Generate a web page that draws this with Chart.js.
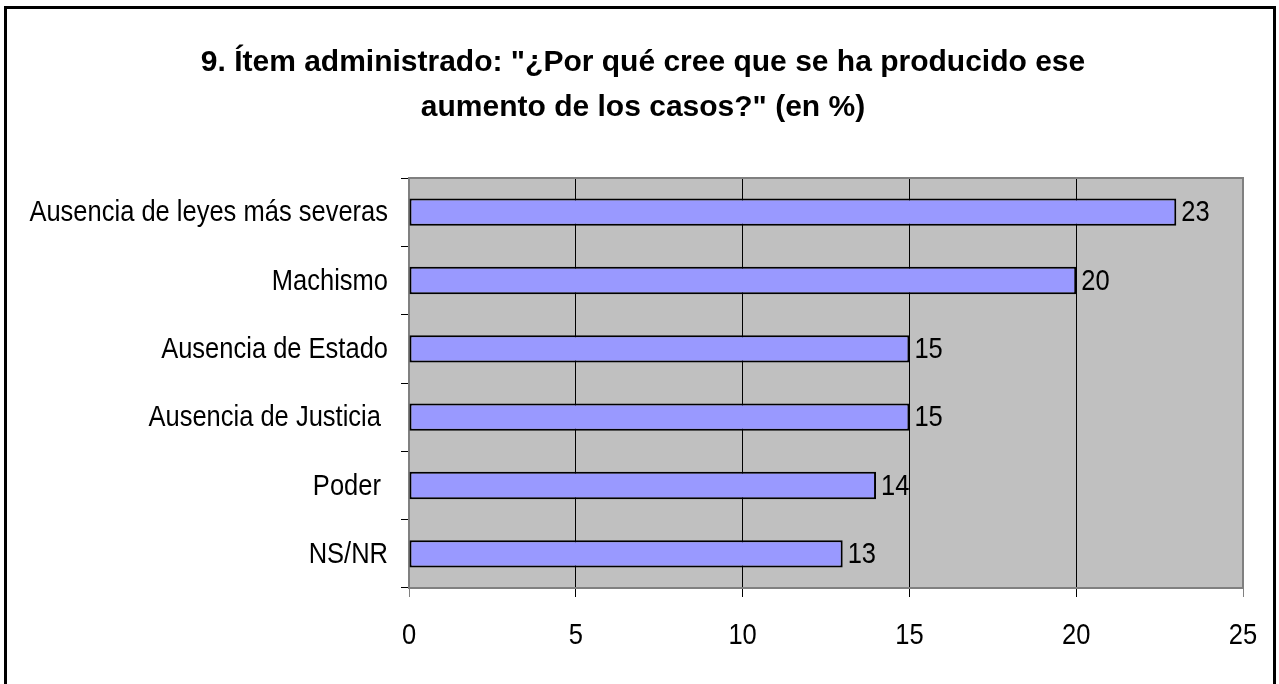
<!DOCTYPE html>
<html lang="es">
<head>
<meta charset="UTF-8">
<script src="https://cdn.jsdelivr.net/npm/chart.js"></script>
<title>Ítem 9</title>
<style>
    html, body { margin: 0; padding: 0; background: #fff; overflow: hidden; }
    .frame {
        position: absolute;
        left: 4px;
        top: 6px;
        width: 1266px;
        height: 690px;
        border: 3px solid #000;
        background: #fff;
    }
    .chart-box { position: relative; width: 1266px; height: 675px; }
</style>
</head>
<body>
<div class="frame">
    <div class="chart-box"><canvas id="items"></canvas></div>
</div>
<script>
    const categories = ['Ausencia de leyes más severas', 'Machismo', 'Ausencia de Estado', 'Ausencia de Justicia ', 'Poder ', 'NS/NR'];
    const values = [23, 20, 15, 15, 14, 13];
    const xTicks = [0, 5, 10, 15, 20, 25];

    const FONT = "'Liberation Sans', Arial, sans-serif";
    // the original uses a narrow face, so labels get squeezed sideways
    const LABEL_SIZE = 30;
    const SQUEEZE = 0.85;

    function narrowText(c, text, x, y, align) {
        c.save();
        c.font = LABEL_SIZE + 'px ' + FONT;
        c.textBaseline = 'middle';
        c.textAlign = align;
        c.translate(x, y);
        c.scale(SQUEEZE, 1);
        c.fillText(text, 0, 0);
        c.restore();
    }

    // gray plot background + gray frame
    const plotBg = {
        id: 'plotBg',
        beforeDraw(chart) {
            const a = chart.chartArea, c = chart.ctx;
            c.save();
            c.fillStyle = '#c0c0c0';
            c.fillRect(a.left, a.top, a.right - a.left, a.bottom - a.top);
            c.restore();
        },
        afterDatasetsDraw(chart) {
            const a = chart.chartArea, c = chart.ctx;
            c.save();
            c.strokeStyle = '#808080';
            c.lineWidth = 2;
            c.beginPath();
            c.moveTo(a.left, a.top);
            c.lineTo(a.right, a.top);
            c.lineTo(a.right, a.bottom);
            c.stroke();
            c.restore();
        }
    };

    // axis labels and bar values, in the squeezed face
    const labels = {
        id: 'labels',
        afterDraw(chart) {
            const c = chart.ctx;
            const xs = chart.scales.x, ys = chart.scales.y;
            c.save();
            c.fillStyle = '#000';
            categories.forEach((name, i) => {
                narrowText(c, name, ys.right - 21, ys.getPixelForTick(i) + 1, 'right');
            });
            xTicks.forEach(v => {
                narrowText(c, String(v), xs.getPixelForValue(v), xs.top + 48, 'center');
            });
            chart.getDatasetMeta(0).data.forEach((bar, i) => {
                narrowText(c, String(values[i]), bar.x + 5, bar.y + 1, 'left');
            });
            c.restore();
        }
    };

    new Chart(document.getElementById('items'), {
        type: 'bar',
        data: {
            labels: categories,
            datasets: [{
                data: values,
                backgroundColor: '#9999ff',
                borderColor: '#000',
                borderWidth: 2,
                borderSkipped: false,
                barPercentage: 0.4,
                categoryPercentage: 1
            }]
        },
        options: {
            indexAxis: 'y',
            responsive: true,
            maintainAspectRatio: false,
            animation: false,
            layout: { padding: { left: 36, right: 30, top: 0, bottom: 0 } },
            plugins: {
                legend: { display: false },
                tooltip: { enabled: false },
                title: {
                    display: true,
                    text: ['9. Ítem administrado: "¿Por qué cree que se ha producido ese', 'aumento de los casos?" (en %)'],
                    color: '#000',
                    font: { family: FONT, size: 30, weight: 'bold', lineHeight: 1.5 },
                    padding: { top: 31, bottom: 48 }
                }
            },
            scales: {
                x: {
                    min: 0,
                    max: 25,
                    afterBuildTicks(axis) { axis.ticks = xTicks.map(v => ({ value: v })); },
                    afterFit(axis) { axis.height = 96; },
                    grid: {
                        color: ctx => (ctx.tick && (ctx.tick.value === 0 || ctx.tick.value === 25)) ? '#808080' : '#000',
                        lineWidth: 1,
                        tickLength: 9
                    },
                    border: { color: '#808080', width: 2 },
                    ticks: { display: false }
                },
                y: {
                    afterFit(axis) { axis.width = 366; },
                    grid: {
                        offset: true,
                        drawOnChartArea: false,
                        color: '#000',
                        tickLength: 8
                    },
                    border: { color: '#808080', width: 2 },
                    ticks: { display: false }
                }
            }
        },
        plugins: [plotBg, labels]
    });
</script>
</body>
</html>
